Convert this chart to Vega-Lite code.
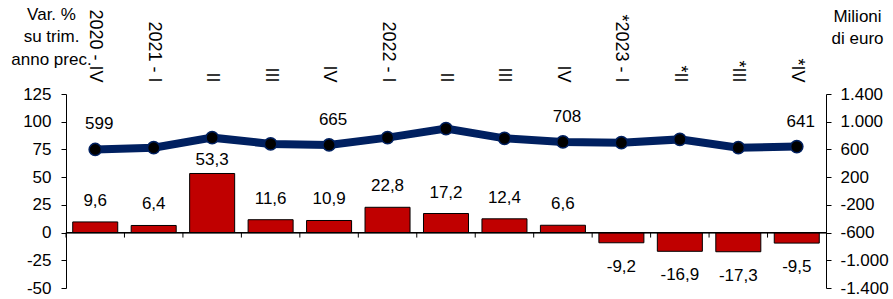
{
  "$schema": "https://vega.github.io/schema/vega-lite/v6.json",
  "width": 760,
  "height": 194,
  "autosize": {"type": "none"},
  "padding": {"left": 66, "top": 94, "right": 67, "bottom": 11},
  "background": "#ffffff",
  "config": {
    "locale": {"number": {"decimal": ",", "thousands": ".", "grouping": [3], "currency": ["", " €"], "minus": "-"}},
    "font": "Liberation Sans",
    "view": {"stroke": null},
    "axis": {
      "labelFont": "Liberation Sans", "labelFontSize": 17, "labelColor": "#000000",
      "domainColor": "#000000", "tickColor": "#000000", "grid": false,
      "titleFont": "Liberation Sans", "titleFontSize": 17, "titleFontWeight": "normal", "titleColor": "#000000"
    }
  },
  "data": {"values": [
    {"q": "2020 - IV|a", "var": 9.6, "mil": 599, "lbl": "599"},
    {"q": "2021 - I|b", "var": 6.4, "mil": 625, "lbl": ""},
    {"q": "II|2021", "var": 53.3, "mil": 770, "lbl": ""},
    {"q": "III|2021", "var": 11.6, "mil": 680, "lbl": ""},
    {"q": "IV|2021", "var": 10.9, "mil": 665, "lbl": "665"},
    {"q": "2022 - I|c", "var": 22.8, "mil": 770, "lbl": ""},
    {"q": "II|2022", "var": 17.2, "mil": 900, "lbl": ""},
    {"q": "III|2022", "var": 12.4, "mil": 760, "lbl": ""},
    {"q": "IV|2022", "var": 6.6, "mil": 708, "lbl": "708"},
    {"q": "*2023 - I|d", "var": -9.2, "mil": 697, "lbl": ""},
    {"q": "*II|2023", "var": -16.9, "mil": 745, "lbl": ""},
    {"q": "*III|2023", "var": -17.3, "mil": 625, "lbl": ""},
    {"q": "*IV|2023", "var": -9.5, "mil": 641, "lbl": "641"}
  ]},
  "layer": [
    {
      "encoding": {
        "x": {"field": "q", "type": "nominal", "sort": null,
          "scale": {"paddingInner": 0, "paddingOuter": 0},
          "axis": null},
        "y": {"field": "var", "type": "quantitative",
          "scale": {"domain": [-50, 125], "nice": false, "zero": false},
          "axis": {"orient": "left", "values": [-50, -25, 0, 25, 50, 75, 100, 125], "format": "d", "tickSize": 5, "labelPadding": 10,
            "title": ["Var. %", "su trim.", "anno prec."], "titleAngle": 0, "titleAlign": "center", "titleBaseline": "top",
            "titleX": -15, "titleY": -88, "titleLineHeight": 22.5}}
      },
      "layer": [
        {"mark": {"type": "bar", "color": "#C00000", "stroke": "#000000", "strokeWidth": 1, "width": {"band": 0.77}}},
        {"mark": {"type": "rule", "color": "#000000", "strokeWidth": 1},
         "encoding": {"x": {"field": "q", "type": "nominal", "sort": null, "bandPosition": 0}, "y": {"datum": 0}, "y2": {"datum": -4.5}}},
        {"mark": {"type": "rule", "color": "#000000", "strokeWidth": 1},
         "encoding": {"x": null, "y": {"datum": 0}}},
        {"transform": [{"filter": "datum.var >= 0 && datum.var < 50"}],
         "mark": {"type": "text", "fontSize": 17, "font": "Liberation Sans", "color": "#000000", "dy": -21, "baseline": "middle"},
         "encoding": {"text": {"field": "var", "type": "quantitative", "format": ".1f"}}},
        {"transform": [{"filter": "datum.var >= 50"}],
         "mark": {"type": "text", "fontSize": 17, "font": "Liberation Sans", "color": "#000000", "dy": -13, "baseline": "middle"},
         "encoding": {"text": {"field": "var", "type": "quantitative", "format": ".1f"}}},
        {"transform": [{"filter": "datum.var < 0"}],
         "mark": {"type": "text", "fontSize": 17, "font": "Liberation Sans", "color": "#000000", "dy": 24, "baseline": "middle"},
         "encoding": {"text": {"field": "var", "type": "quantitative", "format": ".1f"}}}
      ]
    },
    {
      "encoding": {
        "x": {"field": "q", "type": "nominal", "sort": null,
          "axis": {"orient": "top", "labelAngle": 90, "labelAlign": "right", "labelBaseline": "middle", "ticks": false, "tickSize": 0, "domain": false,
            "labelPadding": 12, "labelFontSize": 18, "labelOverlap": false, "labelExpr": "split(datum.label, '|')[0]", "title": null}},
        "y": {"field": "mil", "type": "quantitative",
          "scale": {"domain": [-1400, 1400], "nice": false, "zero": false},
          "axis": {"orient": "right", "values": [-1400, -1000, -600, -200, 200, 600, 1000, 1400], "format": ",d", "tickSize": 5, "labelPadding": 9,
            "title": ["Milioni", "di euro"], "titleAngle": 0, "titleAlign": "center", "titleBaseline": "top",
            "titleX": 31, "titleY": -86, "titleLineHeight": 22.5}}
      },
      "layer": [
        {"mark": {"type": "line", "color": "#002060", "strokeWidth": 8}},
        {"mark": {"type": "circle", "color": "#000000", "stroke": "#002060", "strokeWidth": 1.5, "size": 150, "opacity": 1}},
        {"transform": [{"filter": "datum.lbl != ''"}],
         "mark": {"type": "text", "fontSize": 17, "font": "Liberation Sans", "color": "#000000", "dy": -25, "dx": 4, "baseline": "middle"},
         "encoding": {"text": {"field": "lbl", "type": "nominal"}}}
      ]
    }
  ],
  "resolve": {"scale": {"y": "independent"}, "axis": {"x": "independent", "y": "independent"}}
}
